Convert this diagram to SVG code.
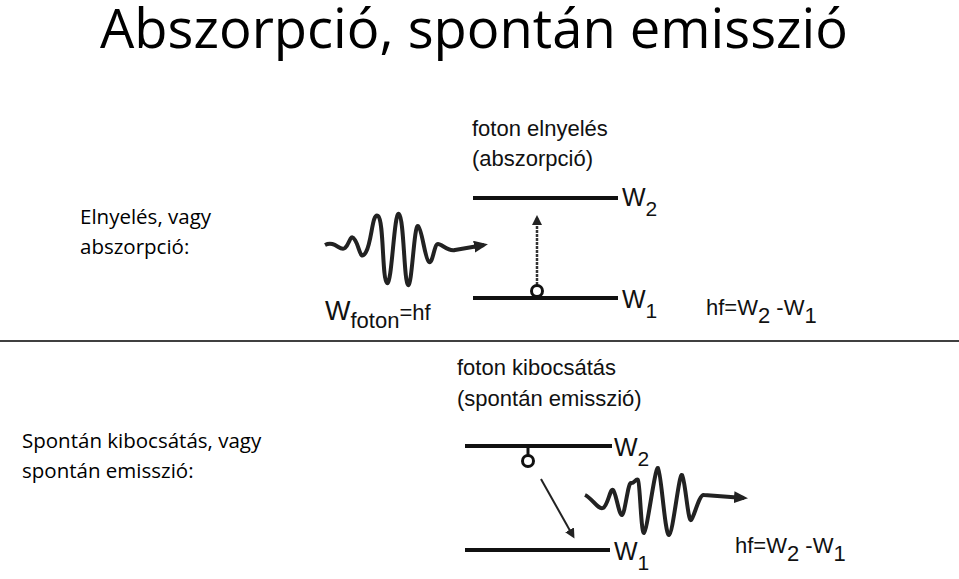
<svg xmlns="http://www.w3.org/2000/svg" width="959" height="579" viewBox="0 0 959 579">
<style>
.t{font-family:"Open Sans",sans-serif;fill:#000}
.d{font-family:"Liberation Sans",Arial,sans-serif;fill:#111}
.lv{stroke:#111;stroke-width:4;fill:none}
.w{stroke:#222;stroke-width:4;fill:none;stroke-linejoin:round}
</style>
<defs><marker id="ah" markerWidth="14" markerHeight="12" refX="10" refY="6" orient="auto" markerUnits="userSpaceOnUse"><path d="M0,0 L14,6 L0,12 Z" fill="#222"/></marker>
<marker id="as" markerWidth="10" markerHeight="10" refX="7" refY="5" orient="auto" markerUnits="userSpaceOnUse"><path d="M0,0 L10,5 L0,10 Z" fill="#222"/></marker></defs>
<rect width="959" height="579" fill="#fff"/>
<text class="t" x="100" y="48" font-size="54" textLength="748" lengthAdjust="spacingAndGlyphs">Abszorpció, spontán emisszió</text>
<text class="t" x="80" y="224" font-size="20.5">Elnyelés, vagy</text>
<text class="t" x="80" y="254" font-size="20.5">abszorpció:</text>
<text class="t" x="22" y="448" font-size="20.5">Spontán kibocsátás, vagy</text>
<text class="t" x="22" y="478" font-size="20.5">spontán emisszió:</text>
<line x1="0" y1="341" x2="959" y2="341" stroke="#000" stroke-width="1.5"/>
<g id="absorption">
<text class="d" x="472" y="136" font-size="22">foton elnyelés</text>
<text class="d" x="472" y="166" font-size="22">(abszorpció)</text>
<line class="lv" x1="473" y1="198" x2="618" y2="198"/>
<line class="lv" x1="473" y1="298" x2="618" y2="298"/>
<text class="d" x="622" y="206" font-size="25">W<tspan font-size="21" dy="10">2</tspan></text>
<text class="d" x="622" y="308" font-size="25">W<tspan font-size="21" dy="10">1</tspan></text>
<line x1="537" y1="285" x2="537" y2="218" stroke="#333" stroke-width="2.5" stroke-dasharray="3,1" marker-end="url(#as)"/>
<circle cx="537" cy="291" r="5.5" fill="#fff" stroke="#111" stroke-width="3"/>
<path class="w" d="M325,245 C335,240 340,252 345,248 S350,232 355,240 S360,262 366,252 S372,212 378,216 S382,280 387,283 S394,210 399,214 S404,282 408,285 S414,224 418,226 S425,260 429,262 S434,244 438,244 S448,252 455,250 L484,245" marker-end="url(#ah)"/>
<text class="d" x="325" y="320" font-size="27">W<tspan font-size="22" dy="8">foton</tspan><tspan font-size="22" dy="-8">=hf</tspan></text>
<text class="d" x="706" y="315" font-size="22">hf=W<tspan dy="8">2</tspan><tspan dy="-8"> -W</tspan><tspan dy="8">1</tspan></text>
</g>
<g id="emission">
<text class="d" x="457" y="375" font-size="22">foton kibocsátás</text>
<text class="d" x="457" y="406" font-size="22">(spontán emisszió)</text>
<line class="lv" x1="465" y1="446" x2="612" y2="446"/>
<line class="lv" x1="465" y1="550" x2="610" y2="550"/>
<text class="d" x="614" y="456" font-size="25">W<tspan font-size="21" dy="10">2</tspan></text>
<text class="d" x="614" y="560" font-size="25">W<tspan font-size="21" dy="10">1</tspan></text>
<line x1="528" y1="447" x2="528" y2="455" stroke="#111" stroke-width="3"/>
<circle cx="528" cy="461" r="5.5" fill="#fff" stroke="#111" stroke-width="3"/>
<line x1="541" y1="479" x2="573" y2="536" stroke="#222" stroke-width="2" marker-end="url(#as)"/>
<path class="w" d="M585,495 C592,498 598,510 603,508 S610,488 613,490 S619,516 622,515 S628,482 631,483 S636,478 638,480 S641,534 644,533 S655,466 658,468 S665,536 669,535 S679,472 682,475 S688,522 691,520 S699,494 704,495 L744,498" marker-end="url(#ah)"/>
<text class="d" x="735" y="553" font-size="22">hf=W<tspan dy="8">2</tspan><tspan dy="-8"> -W</tspan><tspan dy="8">1</tspan></text>
</g>
</svg>
